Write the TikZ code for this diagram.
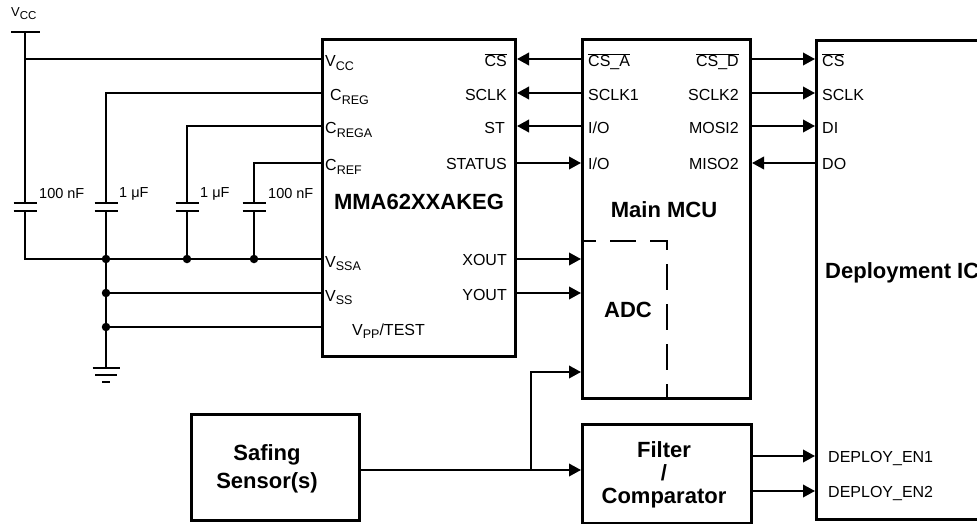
\documentclass[tikz,border=0pt]{standalone}
\usepackage{fontspec}
\setmainfont{Liberation Sans}
\usetikzlibrary{arrows.meta}
\newcommand\lowsub[1]{\raisebox{-3.5pt}{\fontsize{12.5}{13}\selectfont #1}}
\newcommand\ovl[1]{$\overline{\mbox{#1}}$}
\begin{document}
\begin{tikzpicture}[x=1pt,y=-1pt,
  box/.style={draw, line width=3pt, inner sep=0pt, anchor=north west},
  wire/.style={line width=2pt},
  arr/.style={line width=2pt, -{Triangle[length=12pt,width=12.5pt]}},
  pinl/.style={font=\fontsize{16}{18}\selectfont, inner sep=0pt, anchor=base west},
  pinr/.style={font=\fontsize{16}{18}\selectfont, inner sep=0pt, anchor=base east},
  big/.style={font=\fontsize{22}{24}\selectfont\bfseries, align=center, inner sep=0pt},
  dotn/.style={circle, fill, inner sep=0pt, minimum size=8.5pt},
  caplbl/.style={font=\fontsize{14.5}{16}\selectfont, anchor=west, inner sep=0pt}]
\useasboundingbox (0,0) rectangle (977,524);
\clip (0,0) rectangle (977,524);

% boxes
\node[box, minimum width=193pt, minimum height=317pt] (mma) at (321,38) {};
\node[box, minimum width=168pt, minimum height=359pt] (mcu) at (581,38) {};
\node[box, minimum width=220pt, minimum height=479pt] (dep) at (815,39) {};
\node[box, minimum width=168pt, minimum height=106pt] (saf) at (190,413) {};
\node[box, minimum width=169pt, minimum height=99pt] (flt) at (581,423) {};

% rows
\coordinate (rA) at (0,59);
\coordinate (rB) at (0,93);
\coordinate (rC) at (0,126);
\coordinate (rD) at (0,163);
\coordinate (rE) at (0,259);
\coordinate (rF) at (0,293);
\coordinate (rG) at (0,327);
\coordinate (rX) at (0,372);
\coordinate (rS) at (0,470);
\coordinate (rP) at (0,456);
\coordinate (rQ) at (0,491);

% Vcc source
\coordinate (vcc) at (25,32);
\draw[wire] (11,32) -- (40,32);
\node[anchor=base west, inner sep=0pt, font=\fontsize{13}{14}\selectfont] (vcclbl) at (11,17) {V\raisebox{-3pt}{\fontsize{11.5}{12}\selectfont CC}};

% capacitors
\foreach \x/\n in {25/c1,106/c2,187/c3,254/c4}{
  \draw[wire] (\x-11.5,203) -- (\x+11.5,203) (\x-11.5,211) -- (\x+11.5,211);
  \coordinate (\n t) at (\x,203);
  \coordinate (\n b) at (\x,211);
}
\node[caplbl] (cl1) at (39,194) {100 nF};
\node[caplbl] (cl2) at (119,194) {1 μF};
\node[caplbl] (cl3) at (200,194) {1 μF};
\node[caplbl] (cl4) at (268,194) {100 nF};

% wiring on the left
\coordinate (gnd) at (106,368);
\draw[wire] (vcc) -- (c1t);
\draw[wire] (vcc |- rA) -- (mma.west |- rA);
\draw[wire] (c1b) -- (c1b |- rE) -- (mma.west |- rE);
\draw[wire] (mma.west |- rB) -- (c2t |- rB) -- (c2t);
\draw[wire] (c2b) -- (gnd);
\draw[wire] (mma.west |- rC) -- (c3t |- rC) -- (c3t);
\draw[wire] (c3b) -- (c3b |- rE);
\draw[wire] (mma.west |- rD) -- (c4t |- rD) -- (c4t);
\draw[wire] (c4b) -- (c4b |- rE);
\draw[wire] (c2b |- rF) -- (mma.west |- rF);
\draw[wire] (c2b |- rG) -- (mma.west |- rG);
\node[dotn] (d1) at (c2b |- rE) {};
\node[dotn] (d2) at (c3b |- rE) {};
\node[dotn] (d3) at (c4b |- rE) {};
\node[dotn] (d4) at (c2b |- rF) {};
\node[dotn] (d5) at (c2b |- rG) {};
% ground
\draw[wire] (92.5,368) -- (119.5,368) (95,375) -- (117,375) (102,382) -- (110,382);

% MMA labels
\node[pinl] (m1) at (325,67) {V\lowsub{CC}};
\node[pinl] (m2) at (330,101) {C\lowsub{REG}};
\node[pinl] (m3) at (325,134) {C\lowsub{REGA}};
\node[pinl] (m4) at (325,171) {C\lowsub{REF}};
\node[pinl] (m5) at (325,267) {V\lowsub{SSA}};
\node[pinl] (m6) at (325,301) {V\lowsub{SS}};
\node[pinl] (m7) at (352,335) {V\lowsub{PP}/TEST};
\node[pinr] (m8) at (507,67) {\ovl{CS}};
\node[pinr] (m9) at (507,101) {SCLK};
\node[pinr] (m10) at (505,134) {ST};
\node[pinr] (m11) at (507,169) {STATUS};
\node[pinr] (m12) at (507,265) {XOUT};
\node[pinr] (m13) at (507,300) {YOUT};
\node[big] (mmaname) at (419,202) {MMA62XXAKEG};

% MCU labels
\node[pinl] (u1) at (588,67) {\ovl{CS\_A}};
\node[pinl] (u2) at (588,101) {SCLK1};
\node[pinl] (u3) at (588,134) {I/O};
\node[pinl] (u4) at (588,169) {I/O};
\node[pinr] (u5) at (739,67) {\ovl{CS\_D}};
\node[pinr] (u6) at (739,101) {SCLK2};
\node[pinr] (u7) at (739,134) {MOSI2};
\node[pinr] (u8) at (739,169) {MISO2};
\node[big] (mcuname) at (664,210) {Main MCU};
\node[big] (adc) at (628,310) {ADC};
\draw[line width=2.5pt, dash pattern=on 26pt off 14pt, dash phase=11pt] (581,241) coordinate (adcA) -- (667,241) coordinate (adcB) -- (667,400) coordinate (adcC);

% Deployment IC labels
\node[pinl] (p1) at (822,67) {\ovl{CS}};
\node[pinl] (p2) at (822,101) {SCLK};
\node[pinl] (p3) at (822,134) {DI};
\node[pinl] (p4) at (822,169) {DO};
\node[pinl] (p5) at (828,462) {DEPLOY\_EN1};
\node[pinl] (p6) at (828,497) {DEPLOY\_EN2};
\node[big, anchor=base west] (depname) at (825,278) {Deployment IC};

% other blocks
\node[big, font=\fontsize{22}{28}\selectfont\bfseries] (safname) at (267,469) {Safing\\Sensor(s)};
\node[big, font=\fontsize{22}{23}\selectfont\bfseries] (fltname) at (664,475) {Filter\\/\\Comparator};

% arrows
\draw[arr] (mcu.west |- rA) -- (mma.east |- rA);
\draw[arr] (mcu.west |- rB) -- (mma.east |- rB);
\draw[arr] (mcu.west |- rC) -- (mma.east |- rC);
\draw[arr] (mma.east |- rD) -- (mcu.west |- rD);
\draw[arr] (mma.east |- rE) -- (mcu.west |- rE);
\draw[arr] (mma.east |- rF) -- (mcu.west |- rF);
\draw[arr] (mcu.east |- rA) -- (dep.west |- rA);
\draw[arr] (mcu.east |- rB) -- (dep.west |- rB);
\draw[arr] (mcu.east |- rC) -- (dep.west |- rC);
\draw[arr] (dep.west |- rD) -- (mcu.east |- rD);
\coordinate (br) at (531,470);
\draw[arr] (saf.east |- rS) -- (flt.west |- rS);
\draw[arr] (br) -- (br |- rX) -- (mcu.west |- rX);
\draw[arr] (flt.east |- rP) -- (dep.west |- rP);
\draw[arr] (flt.east |- rQ) -- (dep.west |- rQ);
\end{tikzpicture}
\end{document}
